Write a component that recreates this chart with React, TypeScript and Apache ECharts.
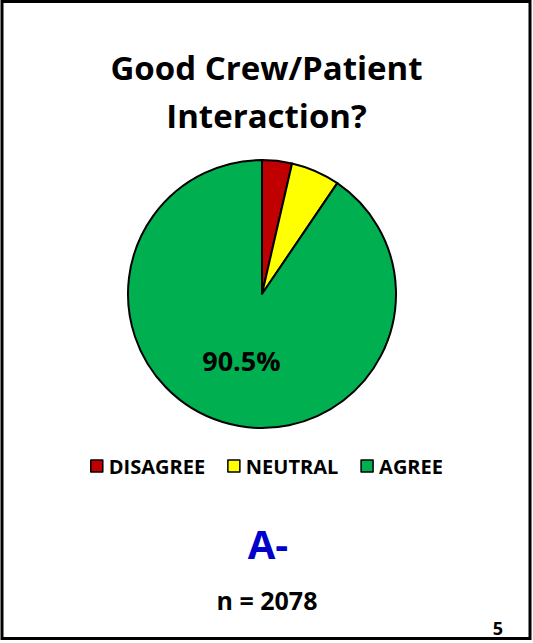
import React, { useEffect, useRef } from "react";
import * as echarts from "echarts";

const categories = ["DISAGREE", "NEUTRAL", "AGREE"];
const values = [3.6, 5.9, 90.5];
const colors = ["#C00000", "#FFFF00", "#00B050"];
const titleText = "Good Crew/Patient\nInteraction?";
const gradeText = "A-";
const nText = "n = 2078";
const pageText = "5";

const FONT = "'Open Sans', 'Noto Sans', sans-serif";

export default function App() {
  const ref = useRef<HTMLDivElement>(null);
  useEffect(() => {
    if (!ref.current) return;
    const chart = echarts.init(ref.current, null, { renderer: "svg" });
    chart.setOption({
      animation: false,
      backgroundColor: "#ffffff",
      title: {
        text: titleText,
        left: "center",
        top: 38,
        textStyle: {
          fontFamily: FONT,
          fontWeight: "bold",
          fontSize: 33,
          lineHeight: 48,
          color: "#000",
        },
      },
      legend: {
        data: categories,
        top: 451,
        left: "center",
        itemWidth: 12,
        itemHeight: 12,
        itemGap: 22,
        icon: "rect",
        itemStyle: { borderColor: "#000", borderWidth: 1.5 },
        textStyle: {
          fontFamily: FONT,
          fontWeight: "bold",
          fontSize: 20,
          color: "#000",
          padding: [0, 0, 0, 1],
        },
      },
      series: [
        {
          type: "pie",
          center: [262, 294],
          radius: [0, 134],
          startAngle: 90,
          clockwise: true,
          itemStyle: { borderColor: "#000", borderWidth: 2 },
          label: {
            show: true,
            position: "inside",
            fontFamily: FONT,
            fontWeight: "bold",
            fontSize: 27,
            color: "#000",
            formatter: (p: any) => (p.dataIndex === 2 ? p.value.toFixed(1) + "%" : ""),
          },
          labelLine: { show: false },
          data: categories.map((c, i) => ({
            name: c,
            value: values[i],
            itemStyle: { color: colors[i] },
          })),
        },
      ],
      graphic: [
        {
          type: "rect",
          shape: { x: 2, y: 1.5, width: 528, height: 637 },
          style: { fill: "none", stroke: "#000", lineWidth: 3 },
          silent: true,
        },
        {
          type: "text",
          x: 268,
          y: 543,
          style: {
            text: gradeText,
            fill: "#0000CC",
            font: `bold 40px ${FONT}`,
            textAlign: "center",
            textVerticalAlign: "middle",
          },
        },
        {
          type: "text",
          x: 267,
          y: 600,
          style: {
            text: nText,
            fill: "#000",
            font: `bold 25px ${FONT}`,
            textAlign: "center",
            textVerticalAlign: "middle",
          },
        },
        {
          type: "text",
          x: 498,
          y: 628,
          style: {
            text: pageText,
            fill: "#000",
            font: `bold 18px ${FONT}`,
            textAlign: "center",
            textVerticalAlign: "middle",
          },
        },
      ],
    });
    return () => chart.dispose();
  }, []);
  return (
    <div
      ref={ref}
      style={{ position: "fixed", left: 0, top: 0, width: 533, height: 643 }}
    />
  );
}
